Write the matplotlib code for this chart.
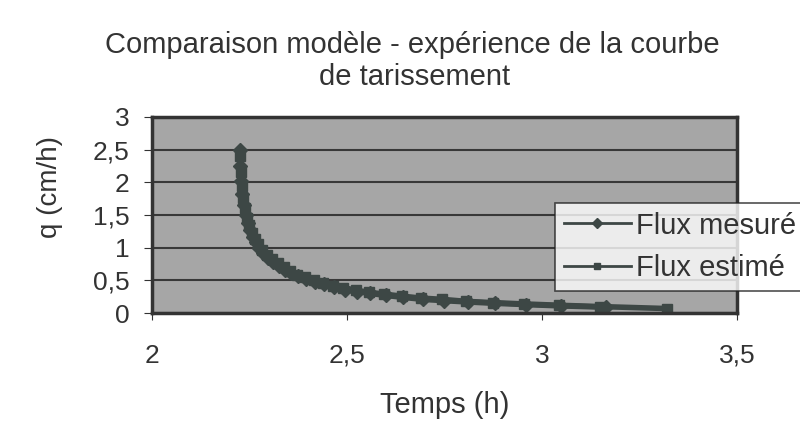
import matplotlib.pyplot as plt
from matplotlib.lines import Line2D

plt.rcParams['font.family'] = ['Liberation Sans', 'DejaVu Sans']

# temps (h) et flux (cm/h)
t_mesure = [2.225, 2.227, 2.229, 2.232, 2.236, 2.240, 2.245, 2.251, 2.258, 2.266,
            2.275, 2.285, 2.297, 2.310, 2.325, 2.340, 2.357, 2.375, 2.395, 2.417,
            2.440, 2.466, 2.494, 2.525, 2.560, 2.600, 2.645, 2.695, 2.750, 2.810,
            2.880, 2.960, 3.050, 3.165]
q_mesure = [2.50, 2.25, 2.02, 1.82, 1.65, 1.50, 1.38, 1.27, 1.17, 1.08,
            1.00, 0.92, 0.85, 0.78, 0.72, 0.66, 0.61, 0.56, 0.52, 0.48,
            0.44, 0.40, 0.36, 0.33, 0.30, 0.27, 0.24, 0.21, 0.19, 0.17,
            0.15, 0.13, 0.11, 0.09]

t_estime = [2.226, 2.228, 2.231, 2.234, 2.238, 2.243, 2.249, 2.256, 2.264, 2.273,
            2.283, 2.295, 2.308, 2.322, 2.338, 2.355, 2.373, 2.393, 2.415, 2.438,
            2.463, 2.491, 2.522, 2.556, 2.595, 2.640, 2.690, 2.745, 2.805, 2.875,
            2.955, 3.045, 3.150, 3.320]
q_estime = [2.40, 2.15, 1.95, 1.76, 1.60, 1.46, 1.34, 1.23, 1.13, 1.05,
            0.97, 0.89, 0.82, 0.76, 0.70, 0.64, 0.59, 0.55, 0.50, 0.46,
            0.42, 0.39, 0.35, 0.32, 0.29, 0.26, 0.23, 0.21, 0.18, 0.16,
            0.14, 0.12, 0.10, 0.07]

x_ticks = [2, 2.5, 3, 3.5]
x_labels = ['2', '2,5', '3', '3,5']
y_ticks = [0, 0.5, 1, 1.5, 2, 2.5, 3]
y_labels = ['0', '0,5', '1', '1,5', '2', '2,5', '3']

couleur = '#3d4745'
texte = '#333333'

fig = plt.figure(figsize=(8, 4.41), dpi=100)
ax = fig.add_axes([0.19, 0.29, 0.731, 0.445])
ax.set_facecolor('#a6a6a6')

ax.plot(t_mesure, q_mesure, color=couleur, lw=4, marker='D', ms=7, label='Flux mesuré')
ax.plot(t_estime, q_estime, color=couleur, lw=4, marker='s', ms=7, label='Flux estimé')

ax.set_xlim(2, 3.5)
ax.set_ylim(0, 3)
ax.set_xticks(x_ticks)
ax.set_xticklabels(x_labels)
ax.set_yticks(y_ticks)
ax.set_yticklabels(y_labels)
ax.yaxis.grid(True, color='#383838', lw=1.5)
ax.set_axisbelow(True)
ax.tick_params(axis='x', labelsize=19, length=5, pad=17, colors=texte)
ax.tick_params(axis='y', labelsize=19, length=6, pad=10, colors=texte)
for s in ax.spines.values():
    s.set_color(texte)
    s.set_linewidth(2.5)

fig.text(0.516, 0.898, 'Comparaison modèle - expérience de la courbe',
         ha='center', va='center', fontsize=21, color=texte)
fig.text(0.518, 0.826, 'de tarissement',
         ha='center', va='center', fontsize=21, color=texte)
fig.text(0.556, 0.082, 'Temps (h)', ha='center', va='center', fontsize=21, color=texte)
fig.text(0.062, 0.576, 'q (cm/h)', ha='center', va='center', rotation=90,
         fontsize=20, color=texte)

poignees = [Line2D([], [], color=couleur, lw=2, marker='D', ms=5),
            Line2D([], [], color=couleur, lw=2, marker='s', ms=5)]
leg = fig.legend(poignees, ['Flux mesuré', 'Flux estimé'], loc='upper left',
                 bbox_to_anchor=(0.694, 0.54), fontsize=21, frameon=True,
                 fancybox=False, edgecolor='#222222', handlelength=2.3,
                 handletextpad=0.17, borderpad=0.3, labelspacing=0.5, borderaxespad=0)
leg.get_frame().set_linewidth(1.2)
for txt in leg.get_texts():
    txt.set_color(texte)

fig.savefig('out.png', dpi=100)
